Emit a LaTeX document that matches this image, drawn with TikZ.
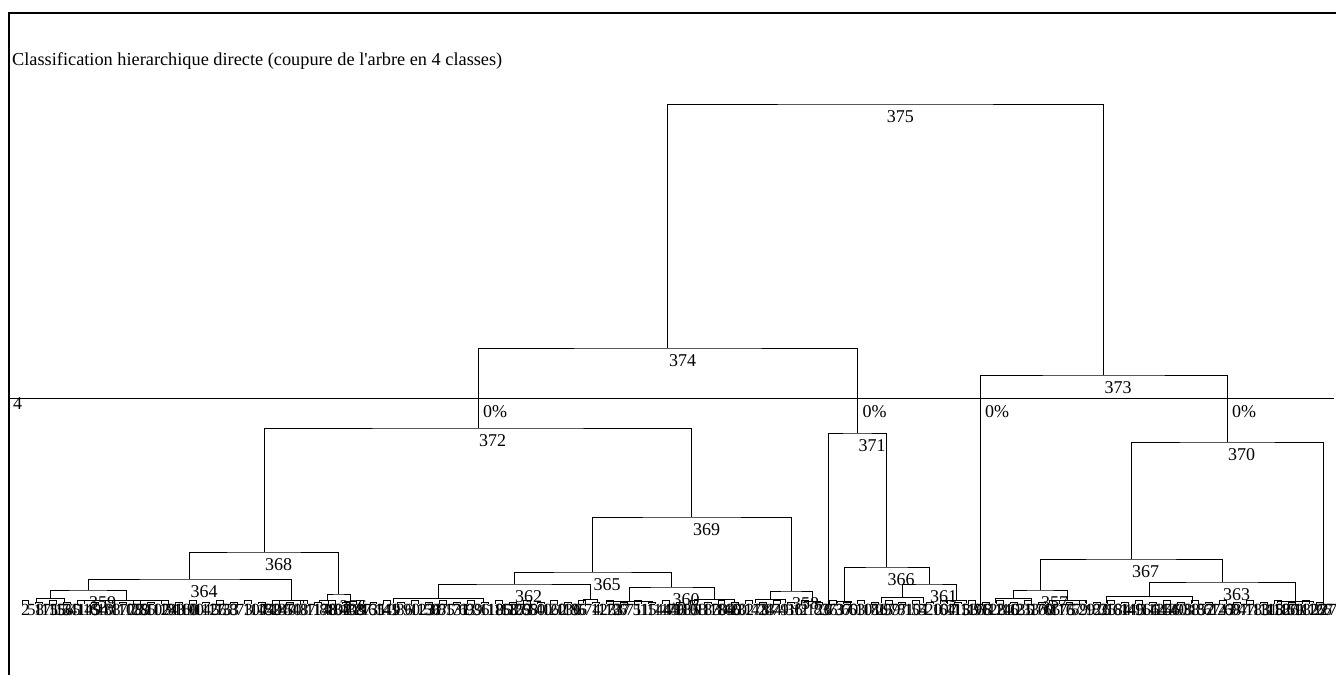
\documentclass[tikz,border=0pt]{standalone}
\usepackage{fontspec}
\setmainfont{Liberation Serif}

\tikzset{
  link/.style={line width=1pt},
  frame/.style={line width=2pt},
  numlbl/.style={anchor=north west, inner sep=0pt, xshift=1pt, yshift=-6pt},
  pctlbl/.style={anchor=north west, inner sep=0pt, xshift=5pt, yshift=-7pt},
  leaflbl/.style={anchor=base west, inner sep=0pt, font=\fontsize{17}{17}\selectfont},
}

\begin{document}
\begin{tikzpicture}[x=1pt, y=-1pt, font=\fontsize{18}{20}\selectfont]
\useasboundingbox (0,0) rectangle (1336,675);

% cadre + titre
\draw[frame] (9,675) -- (9,13) -- (1336,13);
\node[anchor=base west, inner sep=0pt, font=\fontsize{18.3}{20}\selectfont] (title) at (12,65)
  {Classification hierarchique directe (coupure de l\textquotesingle arbre en 4 classes)};

% noeuds de l'arbre
\coordinate (n375) at (885.6,104);
\coordinate (n374) at (667.8,348);
\coordinate (n373) at (1103.5,375);
\coordinate (n372) at (478,428);
\coordinate (n371) at (857.3,433);
\coordinate (n370) at (1227,442);
\coordinate (n369) at (691.8,517);
\coordinate (n368) at (264,552);
\coordinate (n367) at (1131,559);
\coordinate (n366) at (886.5,567);
\coordinate (n365) at (592.5,572);
\coordinate (n364) at (189.5,579);
\coordinate (n363) at (1222,582);
\coordinate (n362) at (514,584);
\coordinate (n361) at (929,584);
\coordinate (n360) at (671.5,587);
\coordinate (n359) at (88,590);
\coordinate (n357) at (1040,590);
\coordinate (n358) at (791,591);
\coordinate (n356) at (338.5,594);

% petits groupes en bas
\foreach \x/\w/\y [count=\k] in {50/14/598, 126/42/600, 291/12/600, 327/8/600,
    350/6/601, 438/45/598, 590/7/599, 629/23/601, 714/20/599, 770/15/599,
    812/8/601, 828/0/607, 844/7/601, 902/21/597, 956/10/600, 980/0/607,
    1013/18/598, 1067/18/600, 1149/43/596, 1295/18/601, 1323/0/604}{
  \coordinate (t\k) at (\x,\y);
  \draw[link] (\x-\w,603) |- (\x+\w,\y) -- (\x+\w,603);
}
\foreach \i in {0,2,...,186}{
  \pgfmathsetmacro{\h}{600+2*mod(\i/2,2)}
  \draw[link] (22+6.96*\i,604) |- (28.96+6.96*\i,\h) -- (28.96+6.96*\i,604);
}

% liens
\draw[link] (n374) |- (n375) -| (n373);
\draw[link] (n372) |- (n374) -| (n371);
\draw[link] (t16) |- (n373) -| (n370);
\draw[link] (n368) |- (n372) -| (n369);
\draw[link] (t12) |- (n371) -| (n366);
\draw[link] (n367) |- (n370) -| (t21);
\draw[link] (n364) |- (n368) -| (n356);
\draw[link] (n365) |- (n369) -| (n358);
\draw[link] (t13) |- (n366) -| (n361);
\draw[link] (n357) |- (n367) -| (n363);
\draw[link] (n359) |- (n364) -| (t3);
\draw[link] (n362) |- (n365) -| (n360);
\draw[link] (t1) |- (n359) -| (t2);
\draw[link] (t4) |- (n356) -| (t5);
\draw[link] (t6) |- (n362) -| (t7);
\draw[link] (t8) |- (n360) -| (t9);
\draw[link] (t10) |- (n358) -| (t11);
\draw[link] (t14) |- (n361) -| (t15);
\draw[link] (t17) |- (n357) -| (t18);
\draw[link] (t19) |- (n363) -| (t20);

% numeros des noeuds
\foreach \n in {375,374,373,372,371,370,369,368,367,366,365,364,363,362,361,360,359,358,357,356}
  \node[numlbl] (l\n) at (n\n) {\n};

% coupure
\coordinate (cutL) at (9,398);
\coordinate (cutR) at (1334,398);
\draw[link] (cutL) -- (cutR);
\node[anchor=north west, inner sep=0pt] (lvl) at (13,397) {4};
\foreach \c in {n372,n371,t16,n370}
  \node[pctlbl] (p\c) at (\c |- cutL) {0\%};

% individus
\pgfmathsetseed{375}
\node[leaflbl] (f0) at (21,615) {2};
\foreach \i in {1,...,186}{
  \pgfmathrandominteger{\lf}{1}{187}
  \node[leaflbl] (f\i) at (20+6.96*\i,615) {\lf};
}
\node[leaflbl] (f187) at (1320,615) {27};
\end{tikzpicture}
\end{document}
